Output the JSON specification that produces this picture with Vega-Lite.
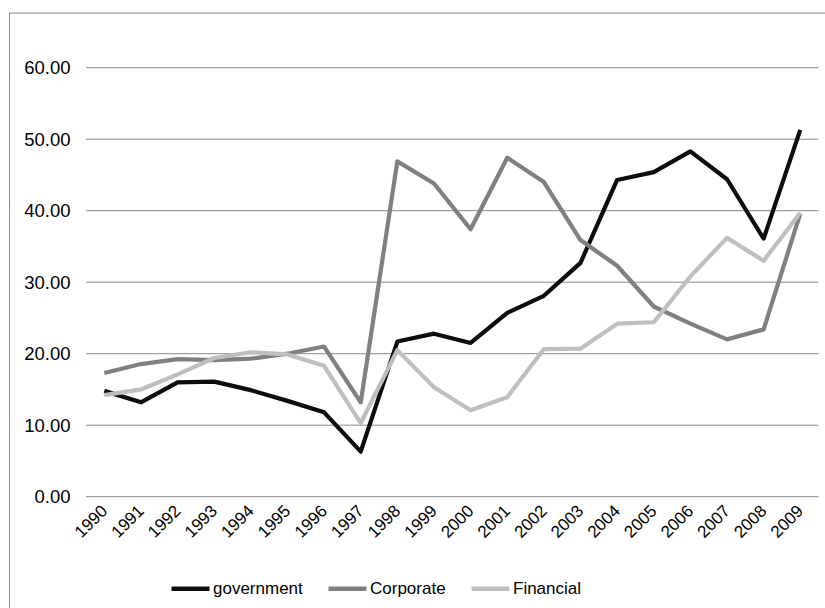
{
  "$schema": "https://vega.github.io/schema/vega-lite/v6.json",
  "width": 816,
  "height": 595,
  "autosize": {"type": "none"},
  "padding": {"left": 9, "top": 13, "right": 0, "bottom": 0},
  "background": "white",
  "config": {"view": {"stroke": null}, "font": "Liberation Sans"},
  "datasets": {
    "series": [
      {"year": 1990, "series": "government", "value": 14.8},
      {"year": 1991, "series": "government", "value": 13.2},
      {"year": 1992, "series": "government", "value": 16.0},
      {"year": 1993, "series": "government", "value": 16.1},
      {"year": 1994, "series": "government", "value": 14.9},
      {"year": 1995, "series": "government", "value": 13.4},
      {"year": 1996, "series": "government", "value": 11.8},
      {"year": 1997, "series": "government", "value": 6.3},
      {"year": 1998, "series": "government", "value": 21.7},
      {"year": 1999, "series": "government", "value": 22.8},
      {"year": 2000, "series": "government", "value": 21.5},
      {"year": 2001, "series": "government", "value": 25.7},
      {"year": 2002, "series": "government", "value": 28.1},
      {"year": 2003, "series": "government", "value": 32.7},
      {"year": 2004, "series": "government", "value": 44.3},
      {"year": 2005, "series": "government", "value": 45.4},
      {"year": 2006, "series": "government", "value": 48.3},
      {"year": 2007, "series": "government", "value": 44.4},
      {"year": 2008, "series": "government", "value": 36.1},
      {"year": 2009, "series": "government", "value": 51.3},
      {"year": 1990, "series": "Corporate", "value": 17.3},
      {"year": 1991, "series": "Corporate", "value": 18.55},
      {"year": 1992, "series": "Corporate", "value": 19.25},
      {"year": 1993, "series": "Corporate", "value": 19.1},
      {"year": 1994, "series": "Corporate", "value": 19.3},
      {"year": 1995, "series": "Corporate", "value": 20.0},
      {"year": 1996, "series": "Corporate", "value": 21.0},
      {"year": 1997, "series": "Corporate", "value": 13.2},
      {"year": 1998, "series": "Corporate", "value": 46.9},
      {"year": 1999, "series": "Corporate", "value": 43.8},
      {"year": 2000, "series": "Corporate", "value": 37.4},
      {"year": 2001, "series": "Corporate", "value": 47.4},
      {"year": 2002, "series": "Corporate", "value": 44.0},
      {"year": 2003, "series": "Corporate", "value": 35.9},
      {"year": 2004, "series": "Corporate", "value": 32.3},
      {"year": 2005, "series": "Corporate", "value": 26.6},
      {"year": 2006, "series": "Corporate", "value": 24.2},
      {"year": 2007, "series": "Corporate", "value": 22.0},
      {"year": 2008, "series": "Corporate", "value": 23.4},
      {"year": 2009, "series": "Corporate", "value": 39.6},
      {"year": 1990, "series": "Financial", "value": 14.2},
      {"year": 1991, "series": "Financial", "value": 15.0},
      {"year": 1992, "series": "Financial", "value": 17.1},
      {"year": 1993, "series": "Financial", "value": 19.4},
      {"year": 1994, "series": "Financial", "value": 20.2},
      {"year": 1995, "series": "Financial", "value": 19.9},
      {"year": 1996, "series": "Financial", "value": 18.3},
      {"year": 1997, "series": "Financial", "value": 10.3},
      {"year": 1998, "series": "Financial", "value": 20.5},
      {"year": 1999, "series": "Financial", "value": 15.3},
      {"year": 2000, "series": "Financial", "value": 12.1},
      {"year": 2001, "series": "Financial", "value": 13.9},
      {"year": 2002, "series": "Financial", "value": 20.65},
      {"year": 2003, "series": "Financial", "value": 20.7},
      {"year": 2004, "series": "Financial", "value": 24.2},
      {"year": 2005, "series": "Financial", "value": 24.4},
      {"year": 2006, "series": "Financial", "value": 30.8},
      {"year": 2007, "series": "Financial", "value": 36.2},
      {"year": 2008, "series": "Financial", "value": 33.0},
      {"year": 2009, "series": "Financial", "value": 39.7}
    ],
    "grid": [
      {"g": 0}, {"g": 10}, {"g": 20}, {"g": 30}, {"g": 40}, {"g": 50}, {"g": 60}
    ]
  },
  "layer": [
    {
      "data": {"name": "grid"},
      "mark": {"type": "rule", "color": "#898989", "strokeWidth": 1},
      "encoding": {
        "y": {"field": "g", "type": "quantitative", "axis": {"title": null}},
        "x": {"datum": 1989.5, "type": "quantitative", "axis": {"title": null}},
        "x2": {"datum": 2009.5}
      }
    },
    {
      "data": {"values": [{}]},
      "mark": {"type": "rule", "color": "#8a8a8a", "strokeWidth": 1},
      "encoding": {
        "x": {"datum": 1987.412, "type": "quantitative", "axis": {"title": null}}
      }
    },
    {
      "data": {"values": [{}]},
      "mark": {"type": "rule", "color": "#8a8a8a", "strokeWidth": 1},
      "encoding": {
        "y": {"datum": 67.64, "type": "quantitative", "axis": {"title": null}}
      }
    },
    {
      "data": {"name": "series"},
      "mark": {"type": "line", "strokeWidth": 4.2, "strokeJoin": "round", "strokeCap": "butt"},
      "encoding": {
        "x": {
          "field": "year",
          "type": "quantitative",
          "scale": {"domain": [1987.398, 2009.675], "nice": false, "zero": false},
          "axis": {
            "title": null,
            "orient": "bottom",
            "offset": -111,
            "values": [1990, 1991, 1992, 1993, 1994, 1995, 1996, 1997, 1998, 1999, 2000, 2001, 2002, 2003, 2004, 2005, 2006, 2007, 2008, 2009],
            "format": "d",
            "labelAngle": -45,
            "labelAlign": "right",
            "labelBaseline": "middle",
            "labelFontSize": 17,
            "labelColor": "#000000",
            "labelPadding": 11,
            "labelFlush": false,
            "labelOverlap": false,
            "ticks": false,
            "domain": false,
            "grid": false
          }
        },
        "y": {
          "field": "value",
          "type": "quantitative",
          "scale": {"domain": [-15.567, 67.65], "nice": false, "zero": false},
          "axis": {
            "title": null,
            "orient": "left",
            "offset": -61,
            "values": [0, 10, 20, 30, 40, 50, 60],
            "format": ".2f",
            "labelFontSize": 18.5,
            "labelColor": "#000000",
            "labelPadding": 0,
            "labelFlush": false,
            "labelOverlap": false,
            "ticks": false,
            "domain": false,
            "grid": false
          }
        },
        "color": {
          "field": "series",
          "type": "nominal",
          "sort": null,
          "scale": {"domain": ["government", "Corporate", "Financial"], "range": ["#0d0d0d", "#808080", "#bfbfbf"]},
          "legend": {
            "title": null,
            "orient": "none",
            "legendX": 160,
            "legendY": 554,
            "direction": "horizontal",
            "symbolType": "stroke",
            "symbolSize": 1444,
            "symbolStrokeWidth": 4.5,
            "labelFontSize": 17,
            "labelColor": "#000000",
            "labelOffset": 1,
            "columnPadding": 16,
            "padding": 0
          }
        }
      }
    }
  ]
}
